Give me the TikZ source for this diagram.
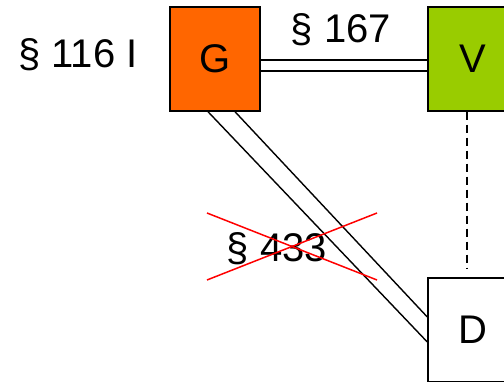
\documentclass[tikz,border=0pt]{standalone}
\usepackage{fontspec}
\setmainfont{Liberation Sans}
\usepackage{tikz}
\usetikzlibrary{positioning}
\usepackage{xcolor}
\definecolor{gorange}{HTML}{FF6600}
\definecolor{vgreen}{HTML}{99CC00}

\begin{document}
\begin{tikzpicture}[
        x=1pt, y=-1pt,
        party/.style={
            rectangle,
            draw,
            line width=1.4pt,
            minimum width=90pt,
            minimum height=104pt,
            inner sep=0pt,
            font=\fontsize{40}{48}\selectfont
        },
        norm/.style={
            anchor=base,
            inner sep=0pt,
            font=\fontsize{40}{48}\selectfont
        },
        link/.style={
            line width=1.4pt
        },
        cross/.style={
            red,
            line width=1.5pt
        }
    ]

    \useasboundingbox (0,0) rectangle (504,382);
    \clip (0,0) rectangle (504,382);

    % Parties
    \node[party, fill=gorange] (G) at (215, 59) {G};
    \node[party, fill=vgreen] (V) at (473, 59) {V};
    \node[party, fill=white] (D) at (473, 330) {D};

    % Labels
    \node[norm] (p116) at (78, 68) {\S~116 I};
    \node[norm] (p167) at (341, 43) {\S~167};
    \node[norm] (p433) at (277, 262) {\S~433};

    % Links
    \draw[link] ([yshift=-1pt]G.east) -- ([yshift=-1pt]V.west);
    \draw[link] ([yshift=-12pt]G.east) -- ([yshift=-12pt]V.west);

    \draw[link] ([xshift=20pt]G.south) -- ([yshift=13pt]D.west);
    \draw[link] ([xshift=-7pt]G.south) -- ([yshift=-12pt]D.west);

    \draw[link, dash pattern=on 8pt off 5pt] ([xshift=-6pt]V.south) -- ([xshift=-6pt, yshift=8pt]D.north);

    % Crossed out
    \coordinate (c1) at (207, 213);
    \coordinate (c2) at (377, 280);
    \coordinate (c3) at (207, 280);
    \coordinate (c4) at (377, 213);
    \draw[cross] (c1) -- (c2);
    \draw[cross] (c3) -- (c4);

\end{tikzpicture}
\end{document}
